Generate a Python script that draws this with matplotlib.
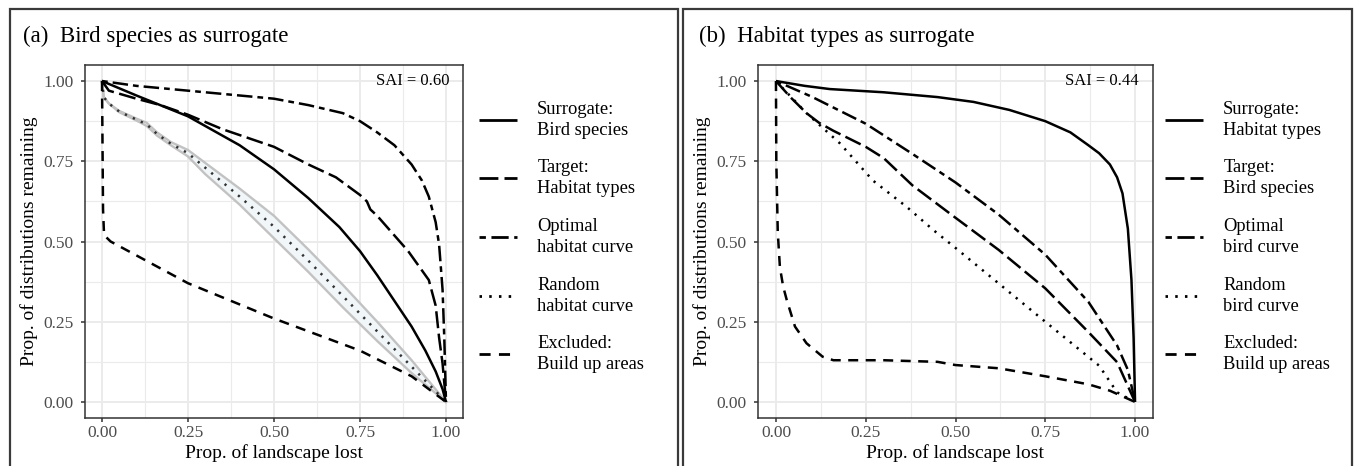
import matplotlib
matplotlib.use("Agg")
import matplotlib.pyplot as plt
from matplotlib.lines import Line2D
from matplotlib.patches import Rectangle

plt.rcParams['font.family'] = ['Liberation Serif', 'DejaVu Serif']

# ---- panel (a): bird species as surrogate ----
a_sur_x = [0, .1, .25, .4, .5, .6, .69, .75, .8, .85, .9, .94, .97, .99, 1.0]
a_sur_y = [1, .955, .89, .8, .725, .635, .545, .47, .395, .315, .235, .16, .095, .04, 0]

a_tar_x = [0, .02, .1, .17, .25, .35, .5, .6, .68, .75, .77, .78, .8, .89, .95, .97, .98, .99, 1.0]
a_tar_y = [1, .97, .945, .925, .895, .85, .795, .74, .70, .645, .625, .60, .58, .47, .38, .30, .2, .12, 0]

a_opt_x = [0, .1, .25, .4, .5, .6, .7, .75, .8, .85, .9, .93, .95, .97, .98, .99, .995, 1.0]
a_opt_y = [1, .985, .97, .955, .945, .925, .9, .875, .84, .80, .74, .69, .64, .56, .49, .35, .2, 0]

a_rnd_x = [0, .005, .02, .05, .1, .13, .16, .2, .25, .3, .4, .5, .6, .7, .8, .9, .95, 1.0]
a_rnd_y = [1, .95, .93, .905, .88, .865, .835, .805, .775, .73, .64, .546, .44, .33, .22, .11, .055, 0]
a_rnd_hi = [1, .95, .93, .907, .883, .87, .84, .81, .785, .745, .665, .58, .475, .365, .25, .13, .065, 0]
a_rnd_lo = [1, .95, .93, .903, .877, .86, .83, .80, .765, .71, .615, .51, .405, .295, .19, .09, .045, 0]

a_exc_x = [0, .003, .006, .025, .25, .5, .75, .9, 1.0]
a_exc_y = [1, .6, .52, .50, .37, .26, .16, .08, 0]

# ---- panel (b): habitat types as surrogate ----
b_sur_x = [0, .08, .15, .3, .45, .55, .65, .75, .82, .87, .9, .93, .95, .965, .98, .99, .996, 1.0]
b_sur_y = [1, .985, .975, .965, .95, .935, .91, .875, .84, .80, .775, .74, .70, .65, .54, .38, .2, 0]

b_tar_x = [0, .04, .085, .12, .16, .25, .3, .38, .5, .62, .75, .87, .95, 1.0]
b_tar_y = [1, .95, .90, .87, .845, .795, .76, .675, .574, .474, .354, .218, .124, 0]

b_opt_x = [0, .1, .25, .38, .5, .62, .75, .87, .95, .98, 1.0]
b_opt_y = [1, .951, .867, .773, .684, .584, .459, .312, .176, .1, 0]

b_rnd_x = [0, .085, .178, .27, .364, .438, .5, .75, .9, .95, 1.0]
b_rnd_y = [1, .9, .806, .69, .608, .536, .48, .25, .113, .03, 0]

b_exc_x = [0, .001, .005, .011, .02, .03, .053, .085, .13, .16, .3, .45, .5, .62, .75, .87, .93, 1.0]
b_exc_y = [1, .75, .53, .42, .36, .318, .235, .183, .141, .13, .13, .125, .115, .105, .08, .055, .035, 0]

ticks = [0, .25, .5, .75, 1.0]
tick_labels = ["0.00", "0.25", "0.50", "0.75", "1.00"]

labels_a = ["Surrogate:\nBird species", "Target:\nHabitat types", "Optimal\nhabitat curve",
            "Random\nhabitat curve", "Excluded:\nBuild up areas"]
labels_b = ["Surrogate:\nHabitat types", "Target:\nBird species", "Optimal\nbird curve",
            "Random\nbird curve", "Excluded:\nBuild up areas"]

LW = 1.8
SOLID = (0, ())
LONG = (0, (6.8, 2.2))
TWO = (0, (2.3, 2.0, 6.2, 2.0))
DOT = (0, (0.9, 2.6))
DASH = (0, (4.0, 3.0))

W, H = 1356, 466
fig = plt.figure(figsize=(13.56, 4.66), dpi=100)

# panel frames
for x0, x1 in [(10, 678), (683, 1352)]:
    fig.patches.append(Rectangle((x0 / W, -0.05), (x1 - x0) / W, 1.05 - 9 / H,
                                 transform=fig.transFigure, fill=False,
                                 edgecolor='#3a3a3a', lw=1.6))

ax_a = fig.add_axes([84.8 / W, 1 - 418 / H, 378.4 / W, 353 / H])
ax_b = fig.add_axes([758 / W, 1 - 418 / H, 395 / W, 353 / H])


def style(ax):
    ax.set_xlim(-0.05, 1.05)
    ax.set_ylim(-0.05, 1.05)
    ax.set_xticks(ticks)
    ax.set_xticklabels(tick_labels)
    ax.set_yticks(ticks)
    ax.set_yticklabels(tick_labels)
    ax.set_xticks([.125, .375, .625, .875], minor=True)
    ax.set_yticks([.125, .375, .625, .875], minor=True)
    ax.grid(which='major', color='#EBEBEB', lw=1.4)
    ax.grid(which='minor', color='#EBEBEB', lw=0.8)
    ax.set_axisbelow(True)
    ax.tick_params(which='minor', length=0)
    ax.tick_params(which='major', length=3, width=1.1, color='#333333',
                   labelsize=12.5, labelcolor='#4D4D4D')
    ax.tick_params(axis='x', pad=2)
    ax.tick_params(axis='y', pad=5)
    for s in ax.spines.values():
        s.set_color('#333333')
        s.set_linewidth(1.1)
    ax.set_xlabel("Prop. of landscape lost", fontsize=14, labelpad=2)
    ax.set_ylabel("Prop. of distributions remaining", fontsize=14, labelpad=4)


# panel (a)
style(ax_a)
ax_a.fill_between(a_rnd_x, a_rnd_lo, a_rnd_hi, facecolor='#F1F6F8', edgecolor='none', zorder=2)
ax_a.plot(a_rnd_x, a_rnd_hi, color='#C2C2C2', lw=1.7, zorder=2)
ax_a.plot(a_rnd_x, a_rnd_lo, color='#C2C2C2', lw=1.7, zorder=2)
ax_a.plot(a_rnd_x, a_rnd_y, color='#333333', lw=LW, ls=DOT, zorder=3)
ax_a.plot(a_exc_x, a_exc_y, color='black', lw=LW, ls=DASH, zorder=3)
ax_a.plot(a_opt_x, a_opt_y, color='black', lw=LW, ls=TWO, zorder=3)
ax_a.plot(a_tar_x, a_tar_y, color='black', lw=LW, ls=LONG, zorder=3)
ax_a.plot(a_sur_x, a_sur_y, color='black', lw=LW, ls=SOLID, zorder=4)
ax_a.text(1.01, 1.0, "SAI = 0.60", ha='right', va='center', fontsize=12)

# panel (b)
style(ax_b)
ax_b.plot(b_rnd_x, b_rnd_y, color='black', lw=LW, ls=DOT, zorder=3)
ax_b.plot(b_exc_x, b_exc_y, color='black', lw=LW, ls=DASH, zorder=3)
ax_b.plot(b_opt_x, b_opt_y, color='black', lw=LW, ls=TWO, zorder=3)
ax_b.plot(b_tar_x, b_tar_y, color='black', lw=LW, ls=LONG, zorder=3)
ax_b.plot(b_sur_x, b_sur_y, color='black', lw=LW, ls=SOLID, zorder=4)
ax_b.text(1.01, 1.0, "SAI = 0.44", ha='right', va='center', fontsize=12)

styles = [SOLID, LONG, TWO, DOT, DASH]
for ax, labels, xl in [(ax_a, labels_a, 479), (ax_b, labels_b, 1165)]:
    handles = [Line2D([], [], color='black', lw=2.0, ls=s) for s in styles]
    leg = fig.legend(handles, labels, loc='center left', bbox_to_anchor=(xl / W, 1 - 237 / H),
                     frameon=False, fontsize=13.3, handlelength=2.05, handletextpad=1.1,
                     labelspacing=1.12, borderpad=0, borderaxespad=0)
    for t in leg.get_texts():
        t.set_linespacing(1.3)

fig.text(23 / W, 1 - 42 / H, "(a)  Bird species as surrogate", fontsize=16.5, va='baseline')
fig.text(699 / W, 1 - 42 / H, "(b)  Habitat types as surrogate", fontsize=16.5, va='baseline')

fig.savefig("out.png", dpi=100)
